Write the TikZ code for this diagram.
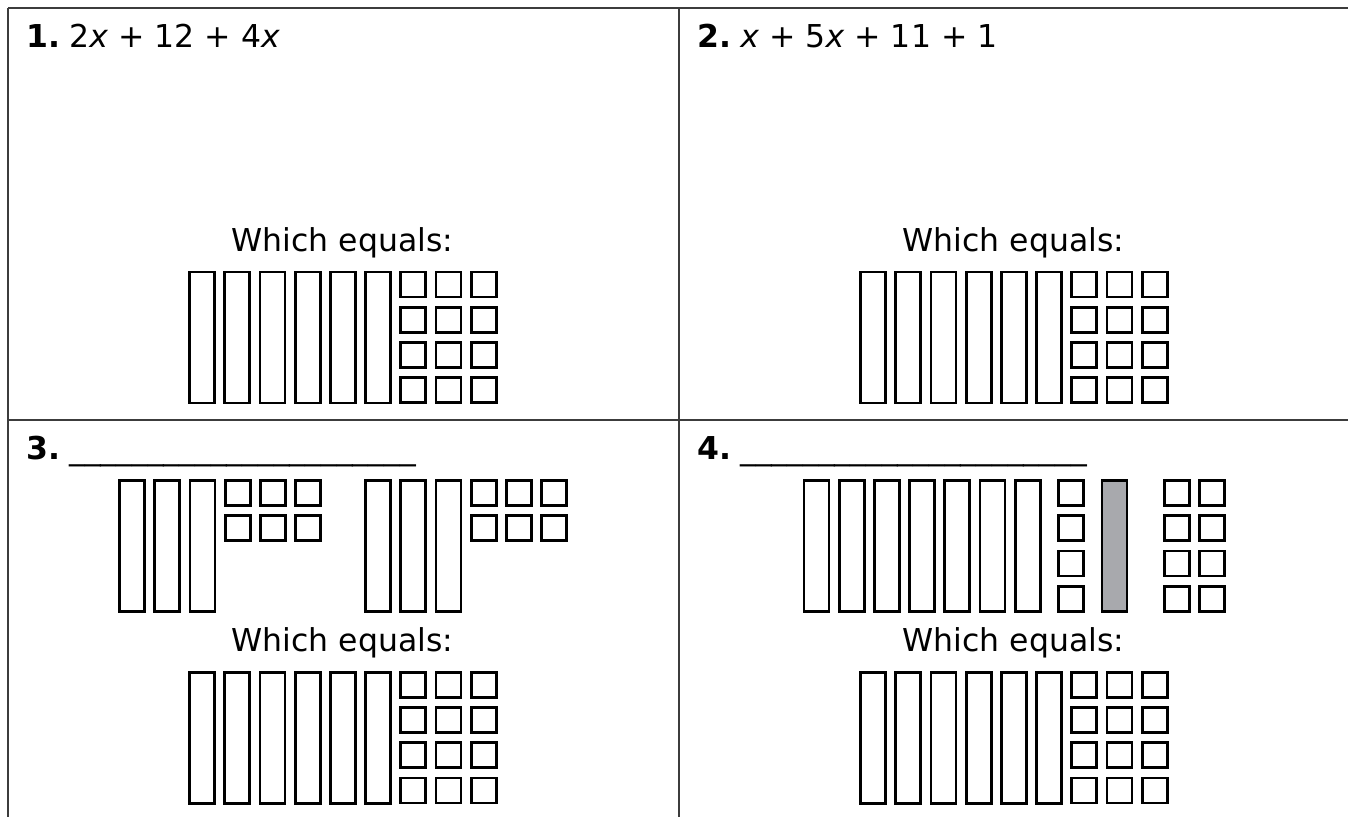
\documentclass[tikz,border=0pt]{standalone}
\usepackage{fontspec}
\setmainfont{DejaVu Sans}
\usepackage{tikz}
\definecolor{tilegray}{RGB}{168,169,173}
\definecolor{gridline}{RGB}{60,60,60}

% one x tile and one unit tile, given by their top left corner
\newcommand{\xtile}[3][white]{\draw[tile, fill=#1] ({#2+1.3},{#3+1.3}) rectangle +(25,131);}
\newcommand{\onetile}[2]{\draw[tile] ({#1+1.3},{#2+1.3}) rectangle +(25,25);}
% 6x + 12 as tiles
\newcommand{\answer}[2]{%
  \foreach \i in {0,...,5}{\xtile{#1+\i*35.2}{#2}}
  \foreach \i in {0,1,2}{\foreach \k in {0,...,3}{\onetile{#1+(6+\i)*35.2}{#2+\k*35.2}}}}
% bold problem number
\newcommand{\probnum}[1]{\textbf{#1.}\kern-0.5pt\ }

\begin{document}
\begin{tikzpicture}[x=0.5pt, y=-0.5pt]
	\tikzset{tile/.style={draw=black, line width=1.35pt}}
	\tikzset{grid/.style={draw=gridline, line width=1pt}}
	\tikzset{txt/.style={inner sep=0pt, font=\fontsize{15.75}{19}\selectfont}}
	\useasboundingbox (0,0) rectangle (1348,816);
	\clip (0,0) rectangle (1348,816);
	% table
	\draw[grid] (8,8) -- (1360,8);
	\draw[grid] (8,420) -- (1360,420);
	\draw[grid] (8,8) -- (8,830);
	\draw[grid] (679,8) -- (679,830);
	% titles
	\node[txt, anchor=base west] (t1) at (26,47) {\probnum{1}2\textit{x} + 12 + 4\textit{x}};
	\node[txt, anchor=base west] (t2) at (697,47) {\probnum{2}\textit{x} + 5\textit{x} + 11 + 1};
	\node[txt, anchor=base west] (t3) at (26,459) {\probnum{3}\_\_\_\_\_\_\_\_\_\_\_\_\_\_\_\_\_\_\_\_\_\_};
	\node[txt, anchor=base west] (t4) at (697,459) {\probnum{4}\_\_\_\_\_\_\_\_\_\_\_\_\_\_\_\_\_\_\_\_\_\_};
	\node[txt, anchor=base] (w1) at (342.5,251.7) {Which equals:};
	\node[txt, anchor=base] (w2) at (1013.5,251.7) {Which equals:};
	\node[txt, anchor=base] (w3) at (342.5,651.7) {Which equals:};
	\node[txt, anchor=base] (w4) at (1013.5,651.7) {Which equals:};
	% answers
	\answer{188.3}{270.7}
	\answer{859.3}{270.7}
	\answer{188.3}{671}
	\answer{859.3}{671}
	% problem 3: two groups of 3x + 6
	\foreach \g in {118.3,364.3}{
		\foreach \i in {0,1,2}{\xtile{\g+\i*35.2}{479.3}}
		\foreach \i in {3,4,5}{\foreach \k in {0,1}{\onetile{\g+\i*35.2}{479.3+\k*35.2}}}
	}
	% problem 4
	\foreach \i in {0,...,6}{\xtile{802.7+\i*35.2}{479.3}}
	\foreach \k in {0,...,3}{\onetile{1057.3}{479.3+\k*35.2}}
	\xtile[tilegray]{1100.7}{479.3}
	\foreach \i in {0,1}{\foreach \k in {0,...,3}{\onetile{1163.3+\i*35}{479.3+\k*35.2}}}
\end{tikzpicture}
\end{document}
